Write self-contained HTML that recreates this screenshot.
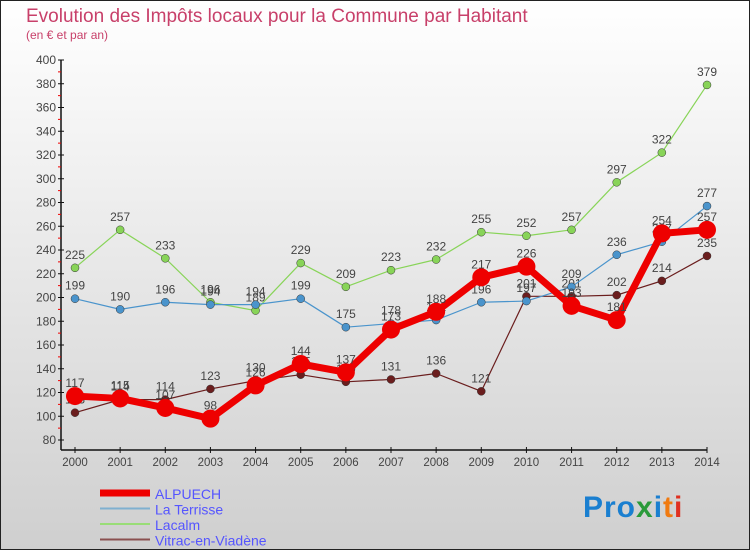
<!DOCTYPE html>
<html><head><meta charset="utf-8"><style>
body{margin:0}
svg text{font-family:"Liberation Sans",sans-serif}
</style></head><body>
<svg id="c" width="750" height="550" xmlns="http://www.w3.org/2000/svg">
<defs><linearGradient id="bg" x1="0" y1="0" x2="0" y2="1"><stop offset="0" stop-color="#ffffff"/><stop offset="1" stop-color="#cfcfcf"/></linearGradient></defs>
<rect x="0.5" y="0.5" width="749" height="549" fill="url(#bg)" stroke="#222"/>
<text x="26" y="22" font-size="19" fill="#c8406a">Evolution des Impôts locaux pour la Commune par Habitant</text>
<text x="26" y="39" font-size="12" fill="#c8406a">(en € et par an)</text>
<g id="axes"></g><g id="series"></g><g id="legend"></g>
<text x="583" y="517" font-size="30" font-weight="bold" letter-spacing="1"><tspan fill="#1a7fd0">Pro</tspan><tspan fill="#2a9a3a">x</tspan><tspan fill="#1a7fd0">i</tspan><tspan fill="#f07a10">t</tspan><tspan fill="#e03020">i</tspan></text>
</svg>
<script>
const years=[2000,2001,2002,2003,2004,2005,2006,2007,2008,2009,2010,2011,2012,2013,2014];
const alpuech=[117,115,107,98,126,144,137,173,188,217,226,193,181,254,257];
const laTerrisse=[199,190,196,194,194,199,175,178,181,196,197,209,236,247,277];
const lacalm=[225,257,233,196,189,229,209,223,232,255,252,257,297,322,379];
const vitrac=[103,114,114,123,130,135,129,131,136,121,201,201,202,214,235];
const yTicks=[80,100,120,140,160,180,200,220,240,260,280,300,320,340,360,380,400];
const NS="http://www.w3.org/2000/svg";
const X=i=>75+i*(707-75)/(years.length-1);
const Y=v=>440-(v-80)*(380/320);
function mk(t,a,p){const e=document.createElementNS(NS,t);for(const k in a)e.setAttribute(k,a[k]);p.appendChild(e);return e;}
const ax=document.getElementById('axes');
let yl=mk('line',{x1:61,y1:60,x2:61,y2:450,stroke:'#111','stroke-width':1.5},ax);


let xl=mk('line',{x1:61,y1:450,x2:707,y2:450,stroke:'#111','stroke-width':1.5},ax);


yTicks.forEach(v=>{
  mk('line',{x1:58,y1:Y(v),x2:64,y2:Y(v),stroke:'#111'},ax);
  if(v<400)mk('line',{x1:58,y1:Y(v+10),x2:61,y2:Y(v+10),stroke:'#e00'},ax);
  const t=mk('text',{x:56,y:Y(v)+4,'font-size':12,'text-anchor':'end',fill:'#444'},ax);
  t.textContent=v;
  
  
});
years.forEach((y,i)=>{
  mk('line',{x1:X(i),y1:447,x2:X(i),y2:453,stroke:'#111'},ax);
  const t=mk('text',{x:X(i),y:466,'font-size':11.5,'text-anchor':'middle',fill:'#444'},ax);
  t.textContent=y;
  
  
});
const sg=document.getElementById('series');
const defs=[
 {d:vitrac,c:'#6b1e1e',w:1.2,r:4,n:'vitrac-en-viadene'},
 {d:lacalm,c:'#88d458',w:1.2,r:4,n:'lacalm'},
 {d:laTerrisse,c:'#4a94cc',w:1.2,r:4,n:'la-terrisse'},
 {d:alpuech,c:'#ee0000',w:7,r:9,n:'alpuech'}];
defs.forEach(s=>{
  const g=mk('g',{},sg);
  
  
  const pl=mk('polyline',{points:s.d.map((v,i)=>X(i)+','+Y(v)).join(' '),fill:'none',stroke:s.c,'stroke-width':s.w,'stroke-linejoin':'round'},g);
  
  
  s.d.forEach((v,i)=>{
    const c=mk('circle',{cx:X(i),cy:Y(v),r:s.r,fill:s.c,stroke:s.w>2?'#ee0000':'#333','stroke-width':s.w>2?0:0.5},g);
    
    
    const t=mk('text',{x:X(i),y:Y(v)-9,'font-size':12,'text-anchor':'middle',fill:'#444'},g);
    t.textContent=v;
    
    
  });
});
const lg=document.getElementById('legend');
const le=[['ALPUECH','#ee0000',7],['La Terrisse','#7fb0d0',2],['Lacalm','#99dd77',2],['Vitrac-en-Viadène','#8a5050',2]];
le.forEach((e,i)=>{
  const y=493+i*15.5;
  const g=mk('g',{},lg);
  
  
  mk('line',{x1:100,y1:y,x2:150,y2:y,stroke:e[1],'stroke-width':e[2]},g);
  const t=mk('text',{x:155,y:y+6,'font-size':14,fill:'#5555ff'},g);
  t.textContent=e[0];
});
</script>
</body></html>
